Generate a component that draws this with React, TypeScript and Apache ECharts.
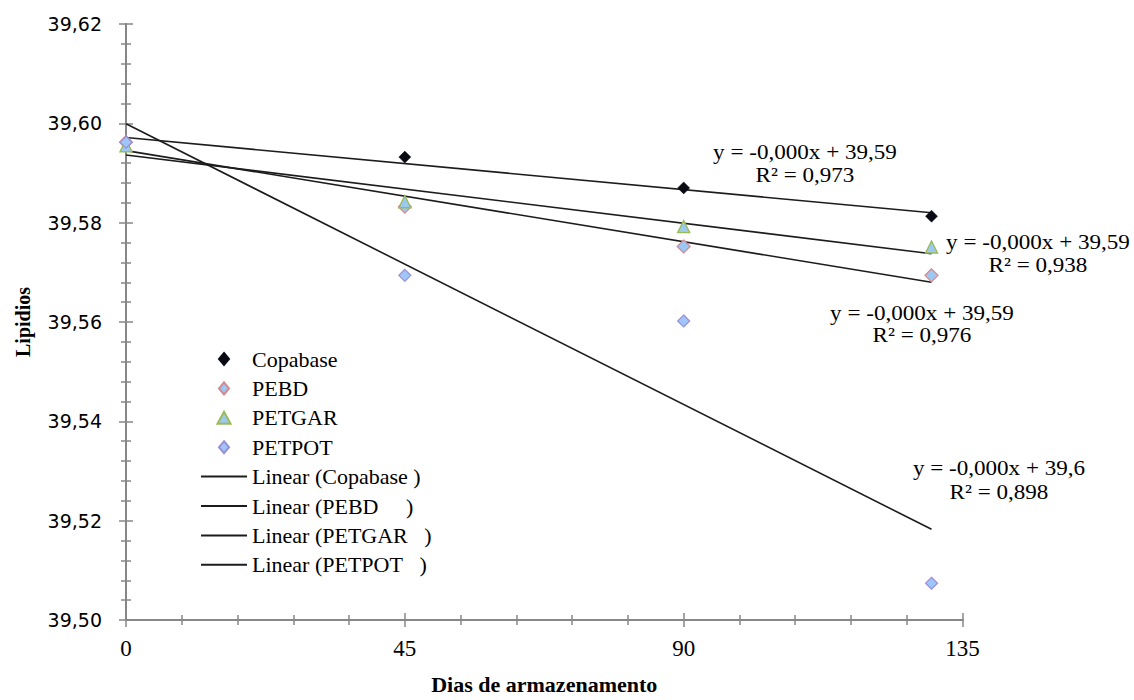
import React, { useEffect, useRef } from "react";
import * as echarts from "echarts";

// Days of storage (x) and lipid content (y)
const days = [0, 45, 90, 130];
const copabase = [39.5962, 39.5932, 39.587, 39.5813];
const pebd = [39.5962, 39.5832, 39.5752, 39.5694];
const petgar = [39.5955, 39.5842, 39.5792, 39.5751];
const petpot = [39.5962, 39.5694, 39.5602, 39.5074];

const seriesNames = ["Copabase", "PEBD", "PETGAR", "PETPOT"];
const trendNames = [
  "Linear (Copabase\u00a0)",
  "Linear (PEBD\u00a0\u00a0\u00a0\u00a0\u00a0)",
  "Linear (PETGAR\u00a0\u00a0\u00a0)",
  "Linear (PETPOT\u00a0\u00a0\u00a0)",
];
const eqTexts = ["y = -0,000x + 39,59", "y = -0,000x + 39,59", "y = -0,000x + 39,59", "y = -0,000x + 39,6"];
const r2Texts = ["R² = 0,973", "R² = 0,976", "R² = 0,938", "R² = 0,898"];

const xTicks = { min: 0, max: 135, interval: 45 };
const yTicks = { min: 39.5, max: 39.62, interval: 0.02 };

const SERIF = "'Liberation Serif', 'Times New Roman', serif";
const SANS = "'DejaVu Sans', Verdana, sans-serif";
const AXIS = "#878787";
const DIAMOND_ICON = "path://M5,0L10,6L5,12L0,6Z";
const TRIANGLE_ICON = "path://M6,0L12,11L0,11Z";

function linReg(xs: number[], ys: number[]) {
  const n = xs.length;
  const mx = xs.reduce((a, b) => a + b, 0) / n;
  const my = ys.reduce((a, b) => a + b, 0) / n;
  let sxy = 0;
  let sxx = 0;
  for (let i = 0; i < n; i++) {
    sxy += (xs[i] - mx) * (ys[i] - my);
    sxx += (xs[i] - mx) * (xs[i] - mx);
  }
  const b = sxy / sxx;
  return { a: my - b * mx, b };
}

export default function App() {
  const ref = useRef<HTMLDivElement>(null);
  useEffect(() => {
    if (!ref.current) return;
    const chart = echarts.init(ref.current, undefined, { renderer: "svg" });
    const allVals = [copabase, pebd, petgar, petpot];
    const markers = [
      { symbol: "diamond", icon: DIAMOND_ICON, size: 12, color: "#0a0a14", border: "#0a0a14", bw: 0.5 },
      { symbol: "diamond", icon: DIAMOND_ICON, size: 13, color: "#99c8f5", border: "#d9868c", bw: 1.2 },
      { symbol: "triangle", icon: TRIANGLE_ICON, size: 12, color: "#9cc9f0", border: "#9bbb59", bw: 1.4 },
      { symbol: "diamond", icon: DIAMOND_ICON, size: 12, color: "#9ec6f8", border: "#9a8fd6", bw: 1.2 },
    ];
    const xLast = days[days.length - 1];

    const trendSeries = allVals.map((vals, i) => {
      const { a, b } = linReg(days, vals);
      return {
        type: "line",
        name: trendNames[i],
        data: [
          [days[0], a + b * days[0]],
          [xLast, a + b * xLast],
        ],
        symbol: "none",
        lineStyle: { color: "#1c1c1c", width: 1.6 },
        itemStyle: { color: "rgba(0,0,0,0)", borderColor: "rgba(0,0,0,0)", borderWidth: 0 },
        z: 2,
        silent: true,
      };
    });

    const scatterSeries = allVals.map((vals, i) => ({
      type: "scatter",
      name: seriesNames[i],
      data: days.map((d, j) => [d, vals[j]]),
      symbol: markers[i].symbol,
      symbolSize: markers[i].size,
      itemStyle: {
        color: markers[i].color,
        borderColor: markers[i].border,
        borderWidth: markers[i].bw,
        opacity: 1,
      },
      z: 4,
      silent: true,
    }));

    const axisCommon = {
      type: "value",
      axisLine: { show: true, onZero: false, lineStyle: { color: AXIS, width: 2 } },
      splitLine: { show: false },
      minorSplitLine: { show: false },
    };

    const xBase = {
      ...axisCommon,
      min: xTicks.min,
      max: xTicks.max,
      interval: xTicks.interval,
      position: "bottom",
    };
    const yBase = {
      ...axisCommon,
      min: yTicks.min,
      max: yTicks.max,
      interval: yTicks.interval,
      position: "left",
    };

    const labelPos = [
      { x: 805, y1: 152, y2: 175 },
      { x: 922, y1: 313, y2: 335 },
      { x: 1038, y1: 242, y2: 265 },
      { x: 999, y1: 468, y2: 492 },
    ];
    const graphics: any[] = [];
    labelPos.forEach((p, i) => {
      [
        { t: eqTexts[i], y: p.y1 },
        { t: r2Texts[i], y: p.y2 },
      ].forEach((l) => {
        graphics.push({
          type: "text",
          x: p.x,
          y: l.y,
          scaleX: 1.1,
          silent: true,
          z: 10,
          style: {
            text: l.t,
            fontFamily: SERIF,
            fontSize: 21,
            fill: "#000",
            align: "center",
            textAlign: "center",
            verticalAlign: "middle",
            textVerticalAlign: "middle",
          },
        });
      });
    });

    const legendData = [
      ...seriesNames.map((n, i) => ({ name: n, icon: markers[i].icon })),
      ...trendNames.map((n) => ({ name: n })),
    ];

    chart.setOption({
      animation: false,
      backgroundColor: "#ffffff",
      grid: { left: 126, right: 171.5, top: 24, bottom: 77.5, containLabel: false },
      legend: {
        orient: "vertical",
        left: 195,
        top: 343,
        itemWidth: 46,
        itemHeight: 12,
        itemGap: 7.4,
        symbolKeepAspect: true,
        selectedMode: false,
        textStyle: { fontFamily: SERIF, fontSize: 22, color: "#000", lineHeight: 22 },
        data: legendData,
      },
      xAxis: [
        {
          ...xBase,
          axisTick: { show: true, length: 7, lineStyle: { color: AXIS, width: 1.5 } },
          minorTick: { show: true, splitNumber: 5, length: 5, lineStyle: { color: AXIS, width: 1.5 } },
          axisLabel: { fontFamily: SERIF, fontSize: 23, color: "#000", margin: 17 },
          name: "Dias de armazenamento",
          nameLocation: "middle",
          nameGap: 53,
          nameTextStyle: { fontFamily: SERIF, fontSize: 22, fontWeight: "bold", color: "#000" },
        },
        {
          ...xBase,
          axisTick: { show: true, inside: true, length: 7, lineStyle: { color: AXIS, width: 1.5 } },
          minorTick: { show: true, splitNumber: 5, length: 5, lineStyle: { color: AXIS, width: 1.5 } },
          axisLabel: { show: false },
        },
      ],
      yAxis: [
        {
          ...yBase,
          axisTick: { show: true, length: 7, lineStyle: { color: AXIS, width: 1.5 } },
          minorTick: { show: true, splitNumber: 5, length: 5, lineStyle: { color: AXIS, width: 1.5 } },
          axisLabel: {
            fontFamily: SANS,
            fontSize: 19,
            color: "#000",
            margin: 24,
            formatter: (v: number) => v.toFixed(2).replace(".", ","),
          },
          name: "Lipidios",
          nameLocation: "middle",
          nameRotate: 90,
          nameGap: 93,
          nameTextStyle: { fontFamily: SERIF, fontSize: 20, fontWeight: "bold", color: "#000" },
        },
        {
          ...yBase,
          axisTick: { show: true, inside: true, length: 7, lineStyle: { color: AXIS, width: 1.5 } },
          minorTick: { show: true, splitNumber: 5, length: 5, lineStyle: { color: AXIS, width: 1.5 } },
          axisLabel: { show: false },
        },
      ],
      series: [...scatterSeries, ...trendSeries],
      graphic: graphics,
    });
    return () => chart.dispose();
  }, []);
  return (
    <div
      ref={ref}
      style={{ position: "absolute", left: 0, top: 0, width: 1134, height: 700, background: "#fff" }}
    />
  );
}
